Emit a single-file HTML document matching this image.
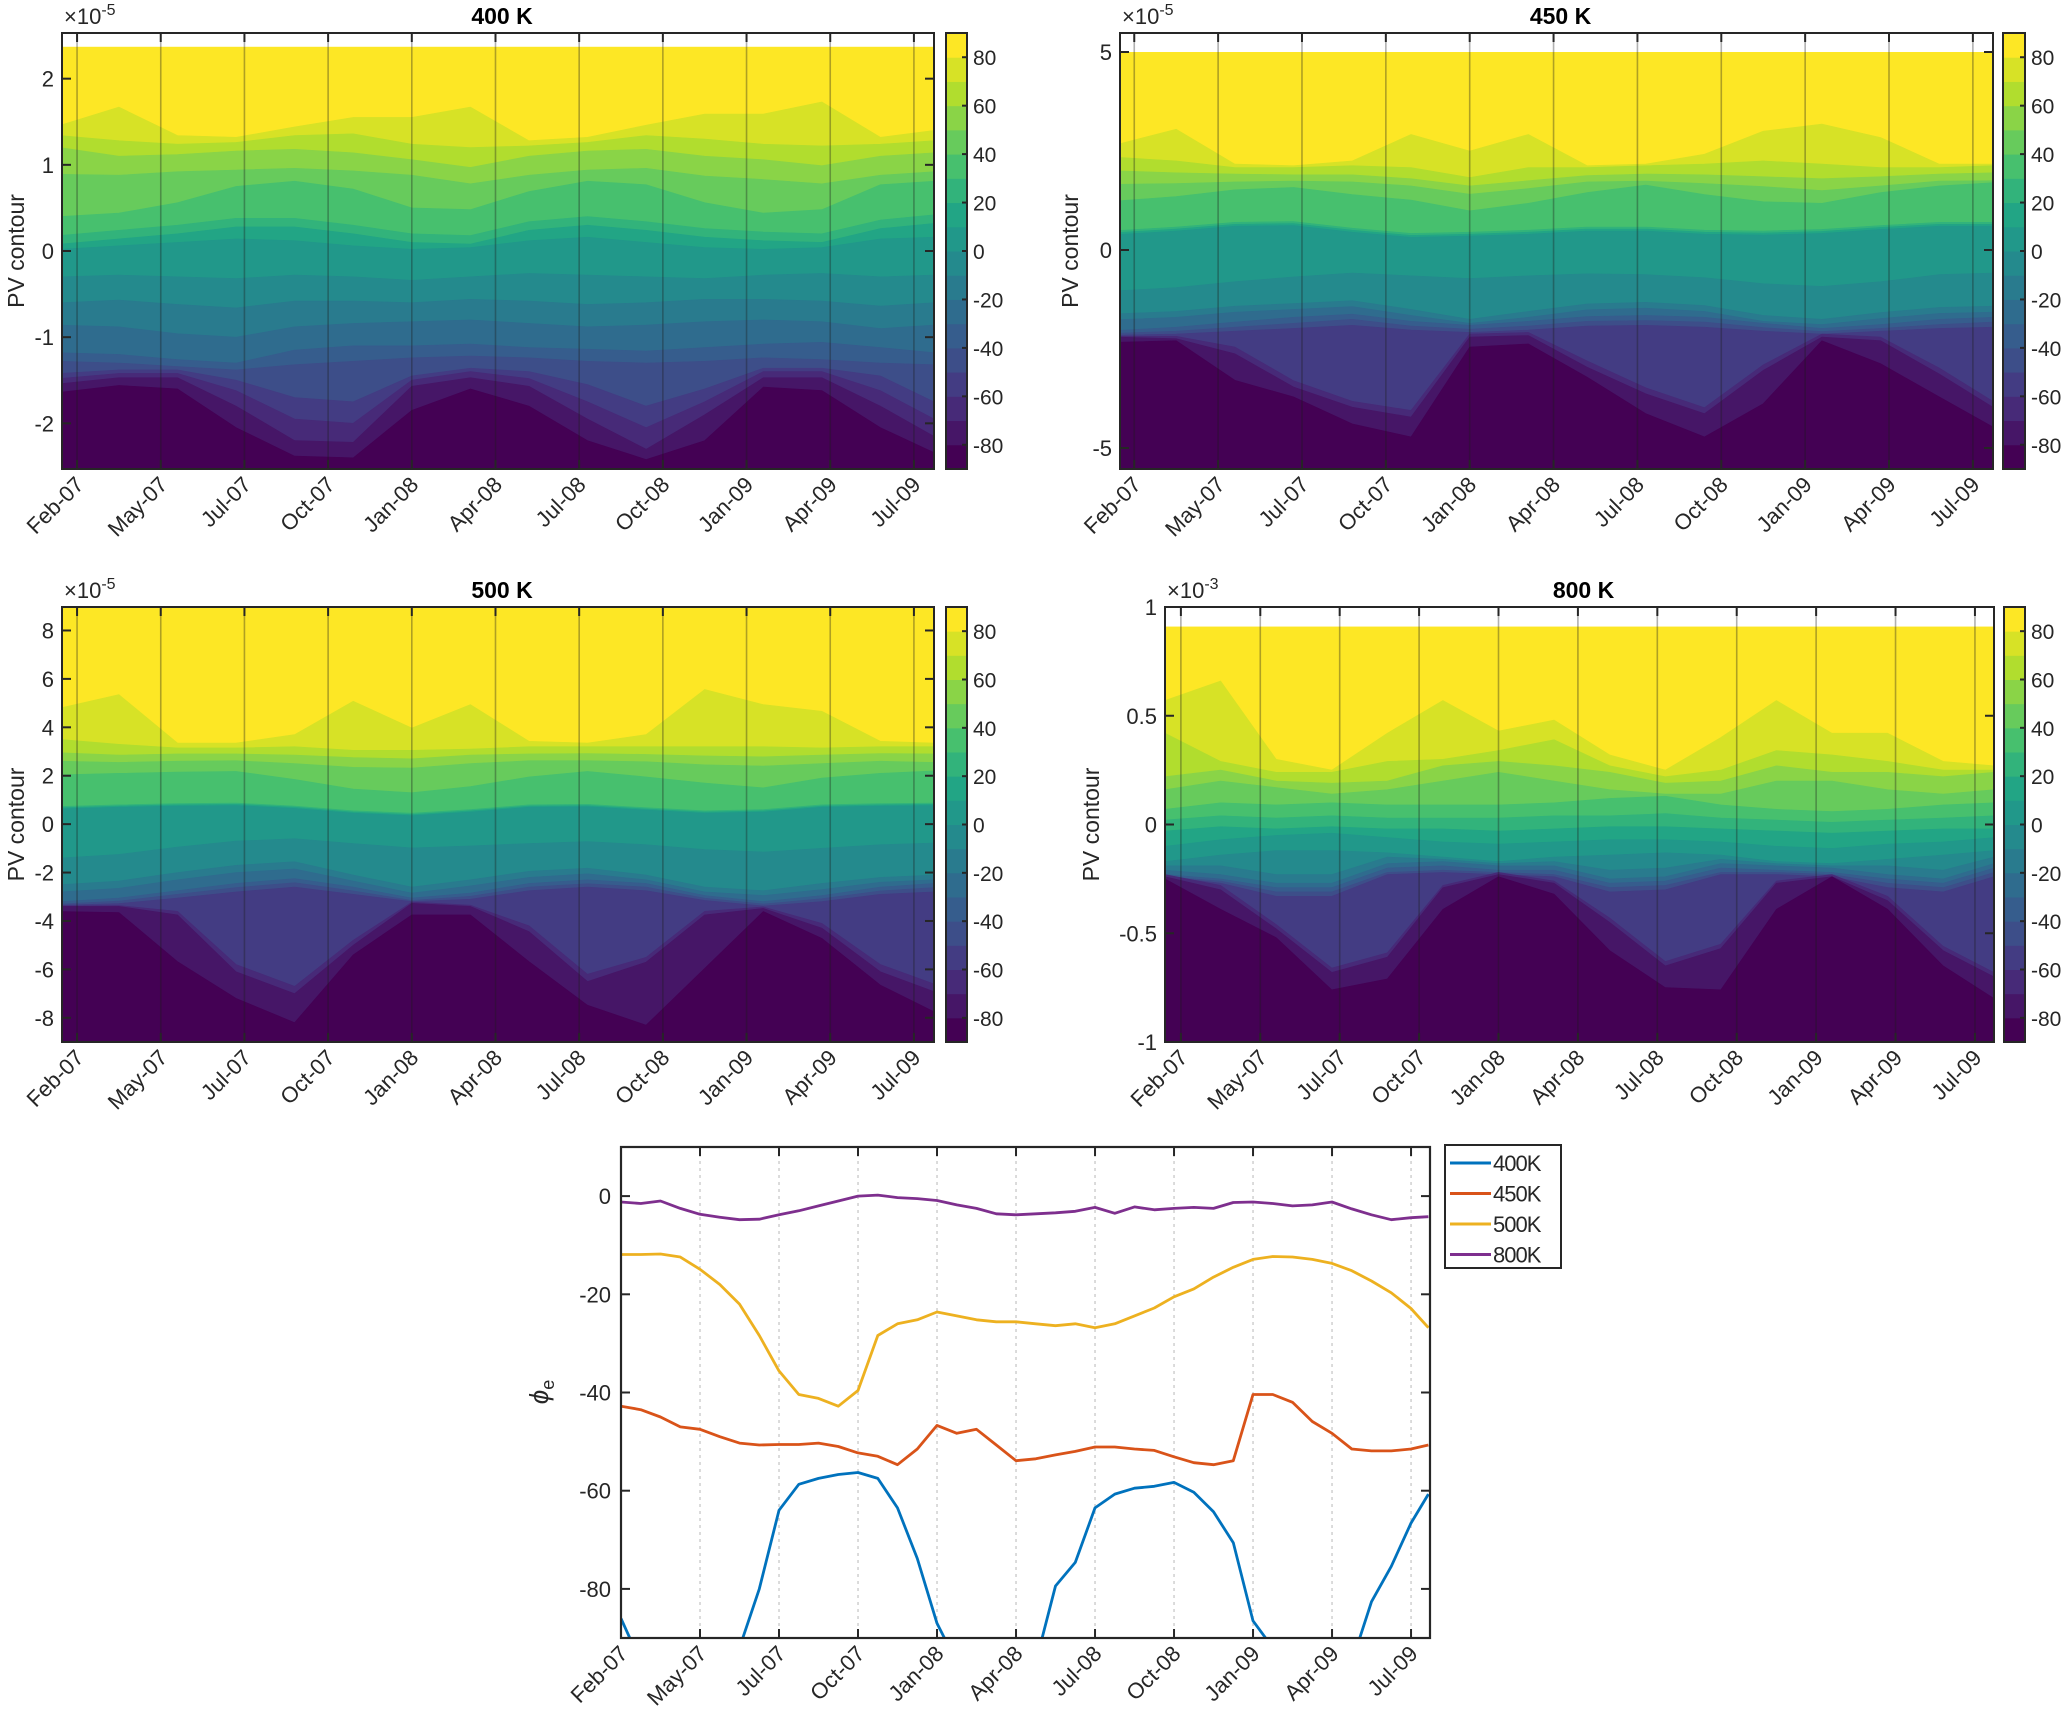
<!DOCTYPE html>
<html><head><meta charset="utf-8"><style>
html,body{margin:0;padding:0;background:#fff;}
svg{display:block;font-family:"Liberation Sans",sans-serif;}
</style></head><body>
<svg id="fig" width="2067" height="1733" viewBox="0 0 2067 1733" xmlns="http://www.w3.org/2000/svg"></svg>
<script>
// ---------- data (time in quarter-year units from Feb-07) ----------
const tickLabels = ['Feb-07','May-07','Jul-07','Oct-07','Jan-08','Apr-08','Jul-08','Oct-08','Jan-09','Apr-09','Jul-09'];
const contourT = [-0.2,0.5,1.2,1.9,2.6,3.3,4.0,4.7,5.4,6.1,6.8,7.5,8.2,8.9,9.6,10.24];
const levelValues = [80,70,60,50,40,30,20,10,0,-10,-20,-30,-40,-50,-60,-70,-80];
const cbTicks = [80,60,40,20,0,-20,-40,-60,-80];

// 400 K (x1e-5)
const p400_L80=[1.46,1.67,1.34,1.32,1.44,1.55,1.55,1.67,1.28,1.32,1.46,1.59,1.59,1.73,1.32,1.40];
const p400_L70=[1.34,1.28,1.24,1.26,1.34,1.36,1.24,1.20,1.22,1.26,1.34,1.30,1.24,1.22,1.24,1.28];
const p400_L60=[1.20,1.10,1.12,1.16,1.18,1.14,1.06,0.97,1.10,1.16,1.18,1.10,1.06,0.99,1.10,1.14];
const p400_L50=[0.89,0.88,0.92,0.94,0.96,0.93,0.88,0.78,0.88,0.94,0.96,0.87,0.83,0.78,0.88,0.92];
const p400_L40=[0.40,0.44,0.56,0.75,0.81,0.72,0.50,0.48,0.69,0.81,0.77,0.56,0.44,0.48,0.77,0.81];
const p400_L30=[0.18,0.24,0.30,0.38,0.38,0.30,0.20,0.18,0.34,0.40,0.34,0.26,0.22,0.20,0.36,0.42];
const p400_L20=[0.08,0.14,0.20,0.28,0.28,0.20,0.10,0.08,0.24,0.30,0.24,0.16,0.12,0.10,0.26,0.32];
const p400_L10=[0.02,0.06,0.10,0.14,0.12,0.06,0.02,0.04,0.12,0.16,0.10,0.04,0.02,0.04,0.14,0.16];
const p400_L0=[-0.30,-0.28,-0.30,-0.32,-0.28,-0.30,-0.34,-0.30,-0.26,-0.28,-0.30,-0.32,-0.28,-0.26,-0.30,-0.28];
const p400_Lm10=[-0.60,-0.57,-0.62,-0.66,-0.58,-0.58,-0.60,-0.56,-0.58,-0.62,-0.60,-0.56,-0.56,-0.58,-0.64,-0.60];
const p400_Lm20=[-0.86,-0.88,-0.96,-1.00,-0.88,-0.84,-0.82,-0.80,-0.84,-0.88,-0.86,-0.82,-0.80,-0.82,-0.90,-0.86];
const p400_Lm30=[-1.18,-1.20,-1.26,-1.30,-1.15,-1.10,-1.10,-1.08,-1.12,-1.14,-1.16,-1.12,-1.08,-1.06,-1.12,-1.18];
const p400_Lm40=[-1.28,-1.30,-1.34,-1.38,-1.32,-1.28,-1.24,-1.22,-1.24,-1.28,-1.30,-1.28,-1.24,-1.26,-1.30,-1.32];
const p400_Lm50=[-1.42,-1.38,-1.38,-1.50,-1.70,-1.75,-1.45,-1.36,-1.40,-1.55,-1.80,-1.60,-1.36,-1.36,-1.45,-1.75];
const p400_Lm60=[-1.48,-1.42,-1.42,-1.62,-1.95,-2.00,-1.50,-1.40,-1.48,-1.75,-2.05,-1.75,-1.40,-1.40,-1.62,-1.95];
const p400_Lm70=[-1.54,-1.47,-1.47,-1.80,-2.20,-2.22,-1.57,-1.47,-1.57,-1.95,-2.30,-1.90,-1.47,-1.47,-1.80,-2.15];
const p400_Lm80=[-1.64,-1.56,-1.60,-2.05,-2.38,-2.40,-1.85,-1.60,-1.80,-2.20,-2.42,-2.20,-1.58,-1.62,-2.05,-2.34];

// 450 K (x1e-5)
const p450_L80=[2.67,3.05,2.17,2.13,2.25,2.92,2.50,2.92,2.13,2.17,2.42,3.00,3.18,2.84,2.17,2.17];
const p450_L70=[2.34,2.25,2.08,2.08,2.13,2.08,1.83,2.08,2.08,2.13,2.17,2.25,2.17,2.08,2.08,2.13];
const p450_L60=[2.00,1.95,1.92,1.90,1.90,1.80,1.62,1.75,1.88,1.92,1.90,1.85,1.80,1.85,1.92,1.95];
const p450_L50=[1.66,1.68,1.72,1.74,1.72,1.62,1.41,1.55,1.72,1.74,1.68,1.60,1.50,1.62,1.74,1.75];
const p450_L40=[1.24,1.35,1.52,1.58,1.40,1.26,0.99,1.18,1.45,1.64,1.40,1.22,1.18,1.45,1.62,1.70];
const p450_L30=[0.49,0.58,0.70,0.72,0.55,0.42,0.45,0.50,0.58,0.58,0.50,0.48,0.52,0.62,0.70,0.70];
const p450_L20=[0.44,0.53,0.65,0.67,0.50,0.37,0.40,0.45,0.53,0.53,0.45,0.43,0.47,0.57,0.65,0.65];
const p450_L10=[0.39,0.48,0.60,0.62,0.45,0.32,0.35,0.40,0.48,0.48,0.40,0.38,0.42,0.52,0.60,0.60];
const p450_L0=[-1.03,-0.95,-0.80,-0.68,-0.58,-0.65,-0.72,-0.65,-0.60,-0.62,-0.70,-0.85,-0.92,-0.80,-0.62,-0.58];
const p450_Lm10=[-1.61,-1.55,-1.42,-1.35,-1.28,-1.50,-1.75,-1.55,-1.36,-1.32,-1.40,-1.65,-1.75,-1.58,-1.45,-1.42];
const p450_Lm20=[-1.76,-1.70,-1.57,-1.50,-1.43,-1.65,-1.85,-1.70,-1.51,-1.47,-1.55,-1.80,-1.88,-1.73,-1.60,-1.57];
const p450_Lm30=[-2.03,-1.95,-1.82,-1.70,-1.62,-1.80,-1.90,-1.80,-1.68,-1.65,-1.70,-1.85,-1.98,-1.88,-1.75,-1.70];
const p450_Lm40=[-2.10,-2.05,-1.95,-1.85,-1.75,-1.92,-2.00,-1.92,-1.80,-1.78,-1.82,-1.96,-2.06,-1.98,-1.88,-1.82];
const p450_Lm50=[-2.15,-2.12,-2.05,-1.98,-1.90,-2.02,-2.08,-2.02,-1.92,-1.90,-1.95,-2.05,-2.12,-2.05,-1.98,-1.95];
const p450_Lm60=[-2.18,-2.18,-2.45,-3.30,-3.82,-4.05,-2.12,-2.08,-2.80,-3.48,-3.98,-2.90,-2.12,-2.20,-2.98,-3.82];
const p450_Lm70=[-2.20,-2.24,-2.62,-3.46,-3.97,-4.22,-2.20,-2.16,-2.96,-3.63,-4.13,-3.04,-2.20,-2.29,-3.13,-3.97];
const p450_Lm80=[-2.33,-2.29,-3.29,-3.71,-4.39,-4.72,-2.45,-2.37,-3.21,-4.13,-4.72,-3.88,-2.29,-2.87,-3.71,-4.47];

// 500 K (x1e-5)
const p500_L80=[4.8,5.35,3.35,3.35,3.7,5.08,3.97,4.94,3.42,3.35,3.7,5.56,4.94,4.66,3.42,3.35];
const p500_L70=[3.5,3.3,3.15,3.15,3.2,3.05,3.05,3.1,3.2,3.2,3.2,3.2,3.2,3.15,3.2,3.2];
const p500_L60=[2.95,2.85,2.9,2.9,2.85,2.75,2.7,2.85,2.9,2.92,2.88,2.82,2.78,2.85,2.92,2.9];
const p500_L50=[2.6,2.55,2.6,2.62,2.5,2.35,2.32,2.5,2.62,2.62,2.58,2.45,2.4,2.5,2.6,2.55];
const p500_L40=[2.04,2.1,2.15,2.18,1.85,1.45,1.3,1.55,1.95,2.18,1.95,1.7,1.5,1.9,2.1,2.2];
const p500_L30=[0.73,0.8,0.85,0.87,0.75,0.55,0.45,0.6,0.8,0.82,0.68,0.55,0.6,0.8,0.85,0.87];
const p500_L20=[0.68,0.75,0.80,0.82,0.70,0.50,0.40,0.55,0.75,0.77,0.63,0.50,0.55,0.75,0.80,0.82];
const p500_L10=[0.63,0.70,0.75,0.77,0.65,0.45,0.35,0.50,0.70,0.72,0.58,0.45,0.50,0.70,0.75,0.77];
const p500_L0=[-1.4,-1.25,-0.95,-0.7,-0.6,-0.8,-0.98,-0.9,-0.8,-0.72,-0.85,-1.05,-1.15,-1.0,-0.85,-0.78];
const p500_Lm10=[-2.5,-2.35,-2.0,-1.7,-1.55,-2.1,-2.6,-2.3,-1.95,-1.82,-2.1,-2.6,-2.75,-2.45,-2.2,-2.1];
const p500_Lm20=[-2.8,-2.65,-2.3,-2.0,-1.85,-2.35,-2.85,-2.55,-2.2,-2.05,-2.3,-2.8,-2.95,-2.7,-2.4,-2.3];
const p500_Lm30=[-3.2,-3.05,-2.75,-2.45,-2.25,-2.6,-3.05,-2.85,-2.45,-2.3,-2.45,-2.95,-3.2,-2.95,-2.6,-2.45];
const p500_Lm40=[-3.3,-3.18,-2.9,-2.62,-2.42,-2.76,-3.15,-2.98,-2.6,-2.46,-2.6,-3.06,-3.3,-3.08,-2.76,-2.62];
const p500_Lm50=[-3.35,-3.28,-3.05,-2.8,-2.6,-2.9,-3.2,-3.1,-2.75,-2.6,-2.75,-3.15,-3.38,-3.2,-2.9,-2.8];
const p500_Lm60=[-3.38,-3.36,-3.6,-5.8,-6.7,-4.8,-3.22,-3.35,-4.2,-6.2,-5.5,-3.6,-3.42,-4.1,-5.8,-6.6];
const p500_Lm70=[-3.4,-3.4,-3.75,-6.1,-7.0,-5.0,-3.27,-3.4,-4.44,-6.5,-5.7,-3.75,-3.48,-4.3,-6.1,-6.92];
const p500_Lm80=[-3.61,-3.65,-5.68,-7.2,-8.2,-5.4,-3.75,-3.75,-5.68,-7.48,-8.3,-5.96,-3.61,-4.72,-6.65,-7.75];

// 800 K (x1e-3)
const p800_L80=[0.57,0.66,0.30,0.25,0.42,0.57,0.43,0.48,0.32,0.25,0.40,0.57,0.42,0.42,0.29,0.27];
const p800_L70=[0.42,0.29,0.24,0.24,0.29,0.30,0.34,0.39,0.27,0.22,0.25,0.34,0.32,0.29,0.25,0.25];
const p800_L60=[0.22,0.25,0.20,0.19,0.20,0.27,0.29,0.27,0.24,0.19,0.20,0.27,0.24,0.24,0.22,0.24];
const p800_L50=[0.16,0.20,0.17,0.14,0.16,0.20,0.24,0.20,0.16,0.14,0.14,0.20,0.20,0.16,0.14,0.16];
const p800_L40=[0.07,0.10,0.09,0.10,0.09,0.09,0.09,0.10,0.12,0.13,0.09,0.07,0.06,0.07,0.09,0.10];
const p800_L30=[0.02,0.04,0.03,0.04,0.03,0.03,0.03,0.04,0.04,0.05,0.03,0.02,0.01,0.02,0.03,0.04];
const p800_L20=[-0.03,-0.01,-0.02,-0.01,-0.02,-0.02,-0.03,-0.02,-0.01,-0.01,-0.02,-0.03,-0.04,-0.03,-0.02,-0.02];
const p800_L10=[-0.10,-0.07,-0.05,-0.04,-0.06,-0.08,-0.09,-0.08,-0.07,-0.07,-0.08,-0.10,-0.11,-0.09,-0.08,-0.06];
const p800_L0=[-0.17,-0.14,-0.12,-0.12,-0.13,-0.15,-0.17,-0.15,-0.14,-0.13,-0.14,-0.17,-0.18,-0.16,-0.14,-0.12];
const p800_Lm10=[-0.19,-0.19,-0.23,-0.23,-0.15,-0.16,-0.18,-0.17,-0.21,-0.20,-0.16,-0.18,-0.19,-0.19,-0.21,-0.15];
const p800_Lm20=[-0.21,-0.23,-0.27,-0.27,-0.18,-0.17,-0.19,-0.19,-0.25,-0.24,-0.18,-0.19,-0.20,-0.23,-0.25,-0.18];
const p800_Lm30=[-0.23,-0.25,-0.29,-0.29,-0.20,-0.19,-0.21,-0.21,-0.27,-0.26,-0.20,-0.21,-0.22,-0.25,-0.27,-0.20];
const p800_Lm40=[-0.24,-0.26,-0.31,-0.31,-0.22,-0.21,-0.22,-0.23,-0.29,-0.28,-0.22,-0.22,-0.23,-0.27,-0.29,-0.22];
const p800_Lm50=[-0.24,-0.27,-0.33,-0.33,-0.23,-0.22,-0.23,-0.24,-0.31,-0.30,-0.23,-0.23,-0.24,-0.29,-0.31,-0.24];
const p800_Lm60=[-0.23,-0.28,-0.46,-0.66,-0.59,-0.28,-0.22,-0.26,-0.43,-0.63,-0.55,-0.26,-0.23,-0.33,-0.56,-0.68];
const p800_Lm70=[-0.24,-0.30,-0.48,-0.68,-0.61,-0.29,-0.23,-0.27,-0.45,-0.65,-0.57,-0.27,-0.24,-0.35,-0.58,-0.70];
const p800_Lm80=[-0.25,-0.39,-0.52,-0.76,-0.71,-0.39,-0.24,-0.32,-0.58,-0.75,-0.76,-0.39,-0.24,-0.39,-0.65,-0.80];

// bottom line chart: equivalent latitude
const lineT = [0,0.25,0.5,0.75,1,1.25,1.5,1.75,2,2.25,2.5,2.75,3,3.25,3.5,3.75,4,4.25,4.5,4.75,5,5.25,5.5,5.75,6,6.25,6.5,6.75,7,7.25,7.5,7.75,8,8.25,8.5,8.75,9,9.25,9.5,9.75,10,10.22];
const phi400=[-86,-95,-95,-95,-95,-95,-92,-80,-64,-58.7,-57.5,-56.7,-56.3,-57.5,-63.5,-73.8,-87,-95,-95,-95,-95,-95,-79.4,-74.6,-63.5,-60.7,-59.5,-59.1,-58.3,-60.3,-64.3,-70.6,-86.5,-92,-95,-95,-95,-95,-82.6,-75.4,-66.6,-60.7];
const phi450=[-42.8,-43.5,-45,-47,-47.5,-49,-50.3,-50.7,-50.6,-50.6,-50.3,-51,-52.3,-53,-54.7,-51.5,-46.7,-48.3,-47.5,-50.7,-53.9,-53.5,-52.7,-52,-51.1,-51.1,-51.5,-51.8,-53.1,-54.3,-54.7,-53.9,-40.4,-40.4,-42,-45.9,-48.3,-51.5,-51.9,-51.9,-51.5,-50.7];
const phi500=[-11.9,-11.9,-11.8,-12.4,-14.9,-18,-22,-28.4,-35.6,-40.4,-41.2,-42.8,-39.6,-28.4,-26,-25.2,-23.6,-24.4,-25.2,-25.6,-25.6,-26,-26.4,-26,-26.8,-26,-24.4,-22.8,-20.5,-18.9,-16.5,-14.5,-12.9,-12.3,-12.4,-12.9,-13.7,-15.2,-17.3,-19.7,-22.9,-26.8];
const phi800=[-1.2,-1.5,-1.0,-2.5,-3.7,-4.3,-4.8,-4.7,-3.8,-3.0,-2.0,-1.0,0.0,0.2,-0.3,-0.5,-0.9,-1.8,-2.5,-3.6,-3.8,-3.6,-3.4,-3.1,-2.3,-3.5,-2.2,-2.8,-2.5,-2.3,-2.5,-1.3,-1.2,-1.5,-2.0,-1.8,-1.2,-2.6,-3.8,-4.8,-4.4,-4.2];
const seriesNames=['400K','450K','500K','800K'];
const yTicksLine=[0,-20,-40,-60,-80];

// ---------- rendering ----------
const NS='http://www.w3.org/2000/svg';
const svg=document.getElementById('fig');
function el(tag,attrs,parent){const e=document.createElementNS(NS,tag);for(const k in attrs)e.setAttribute(k,attrs[k]);(parent||svg).appendChild(e);return e;}
const vstops=['#440154','#482475','#414487','#355f8d','#2a788e','#21918c','#22a884','#44bf70','#7ad151','#bddf26','#fde725'];
function hex(c){return [parseInt(c.substr(1,2),16),parseInt(c.substr(3,2),16),parseInt(c.substr(5,2),16)];}
function viridis(f){const p=f*10,i=Math.min(9,Math.floor(p)),r=p-i,a=hex(vstops[i]),b=hex(vstops[i+1]);return 'rgb('+a.map((v,k)=>Math.round(v+(b[k]-v)*r)).join(',')+')';}
const bandColor=i=>viridis(i/17);
const INK='#262626';

const panels=[
 {name:'400 K',slug:'400k',L:62,R:934,T:33,B:469,tmin:-0.18,tmax:10.24,ymin:-2.53,ymax:2.53,dataTop:2.37,yt:[2,1,0,-1,-2],exp:'-5',ylx:16,
  levels:[p400_L80,p400_L70,p400_L60,p400_L50,p400_L40,p400_L30,p400_L20,p400_L10,p400_L0,p400_Lm10,p400_Lm20,p400_Lm30,p400_Lm40,p400_Lm50,p400_Lm60,p400_Lm70,p400_Lm80],cbL:946,cbR:967},
 {name:'450 K',slug:'450k',L:1120,R:1993,T:33,B:469,tmin:-0.17,tmax:10.24,ymin:-5.53,ymax:5.48,dataTop:5.0,yt:[5,0,-5],exp:'-5',ylx:1070,
  levels:[p450_L80,p450_L70,p450_L60,p450_L50,p450_L40,p450_L30,p450_L20,p450_L10,p450_L0,p450_Lm10,p450_Lm20,p450_Lm30,p450_Lm40,p450_Lm50,p450_Lm60,p450_Lm70,p450_Lm80],cbL:2003,cbR:2025},
 {name:'500 K',slug:'500k',L:62,R:934,T:607,B:1042,tmin:-0.18,tmax:10.24,ymin:-9.0,ymax:8.97,dataTop:8.95,yt:[8,6,4,2,0,-2,-4,-6,-8],exp:'-5',ylx:16,
  levels:[p500_L80,p500_L70,p500_L60,p500_L50,p500_L40,p500_L30,p500_L20,p500_L10,p500_L0,p500_Lm10,p500_Lm20,p500_Lm30,p500_Lm40,p500_Lm50,p500_Lm60,p500_Lm70,p500_Lm80],cbL:946,cbR:967},
 {name:'800 K',slug:'800k',L:1165,R:1994,T:607,B:1042,tmin:-0.2,tmax:10.24,ymin:-1,ymax:1,dataTop:0.91,yt:[1,0.5,0,-0.5,-1],exp:'-3',ylx:1091,
  levels:[p800_L80,p800_L70,p800_L60,p800_L50,p800_L40,p800_L30,p800_L20,p800_L10,p800_L0,p800_Lm10,p800_Lm20,p800_Lm30,p800_Lm40,p800_Lm50,p800_Lm60,p800_Lm70,p800_Lm80],cbL:2004,cbR:2025}
];

function xTickLabels(g,xs,B){
  tickLabels.forEach((lab,i)=>{
    const x=xs(i);
    const t=el('text',{x:x+8,y:B+17,'text-anchor':'end','font-size':22,fill:INK,transform:`rotate(-45 ${x+8} ${B+17})`},g);
    t.textContent=lab;
    
    
  });
}

panels.forEach((p,pi)=>{
  const g=el('g',{});
  
  
  const xs=t=>p.L+(t-p.tmin)/(p.tmax-p.tmin)*(p.R-p.L);
  const ys=v=>p.B-(v-p.ymin)/(p.ymax-p.ymin)*(p.B-p.T);
  const cid='clip'+pi;
  const cp=el('clipPath',{id:cid},g);el('rect',{x:p.L,y:p.T,width:p.R-p.L,height:p.B-p.T},cp);
  const fills=el('g',{'clip-path':`url(#${cid})`},g);
  
  
  const top=el('rect',{x:p.L,y:ys(p.dataTop),width:p.R-p.L,height:p.B-ys(p.dataTop),fill:bandColor(17)},fills);
  
  
  p.levels.forEach((arr,i)=>{
    const band=16-i;
    let d=`M${xs(contourT[0])-5},${p.B+5} L${xs(contourT[0])-5},${ys(arr[0])}`;
    arr.forEach((v,k)=>{d+=` L${xs(contourT[k]).toFixed(1)},${ys(v).toFixed(1)}`;});
    d+=` L${xs(contourT[contourT.length-1])+5},${ys(arr[arr.length-1])} L${xs(contourT[contourT.length-1])+5},${p.B+5} Z`;
    const c=bandColor(band);
    const path=el('path',{d:d,fill:c,stroke:c,'stroke-width':0.6},fills);
    
    
  });
  for(let i=0;i<tickLabels.length;i++){
    const x=xs(i);
    el('line',{x1:x,y1:p.T,x2:x,y2:p.B,stroke:'rgba(30,30,30,0.35)','stroke-width':1.6},g);
    el('line',{x1:x,y1:p.T,x2:x,y2:p.T+9,stroke:INK,'stroke-width':2},g);
    el('line',{x1:x,y1:p.B,x2:x,y2:p.B-9,stroke:INK,'stroke-width':2},g);
  }
  p.yt.forEach(v=>{
    const y=ys(v);
    el('line',{x1:p.L,y1:y,x2:p.L+9,y2:y,stroke:INK,'stroke-width':2},g);
    el('line',{x1:p.R,y1:y,x2:p.R-9,y2:y,stroke:INK,'stroke-width':2},g);
    const t=el('text',{x:p.L-8,y:y+8,'text-anchor':'end','font-size':22,fill:INK},g);
    t.textContent=String(v);
    
    
  });
  const box=el('rect',{x:p.L,y:p.T,width:p.R-p.L,height:p.B-p.T,fill:'none',stroke:INK,'stroke-width':2},g);
  
  
  xTickLabels(g,xs,p.B);
  const ex=el('text',{x:p.L+2,y:p.T-9,'font-size':22,fill:INK},g);
  ex.innerHTML='×10<tspan dy="-9" font-size="16">'+p.exp+'</tspan>';
  
  
  const ti=el('text',{x:(p.L+p.R)/2+4,y:p.T-9,'text-anchor':'middle','font-size':23,'font-weight':'bold',fill:'#000'},g);
  ti.textContent=p.name;
  
  
  const yl=el('text',{x:p.ylx,y:(p.T+p.B)/2,'text-anchor':'middle','font-size':23,fill:INK,transform:`rotate(-90 ${p.ylx} ${(p.T+p.B)/2})`,dy:'8'},g);
  yl.textContent='PV contour';
  
  
  const cb=el('g',{},g);
  
  
  const cy=v=>p.B-(v+90)/180*(p.B-p.T);
  for(let b=0;b<18;b++){
    el('rect',{x:p.cbL,y:cy(-90+(b+1)*10),width:p.cbR-p.cbL,height:cy(-90+b*10)-cy(-90+(b+1)*10)+0.5,fill:bandColor(b)},cb);
  }
  el('rect',{x:p.cbL,y:p.T,width:p.cbR-p.cbL,height:p.B-p.T,fill:'none',stroke:INK,'stroke-width':2},cb);
  cbTicks.forEach(v=>{
    const y=cy(v);
    el('line',{x1:p.cbR,y1:y,x2:p.cbR-5,y2:y,stroke:INK,'stroke-width':2},cb);
    const t=el('text',{x:p.cbR+6,y:y+8,'font-size':21,fill:INK},cb);
    t.textContent=String(v);
    
    
  });
});

(function(){
  const L=621,R=1430,T=1147,B=1638,tmin=0,tmax=10.24,ymin=-90,ymax=10;
  const xs=t=>L+(t-tmin)/(tmax-tmin)*(R-L);
  const ys=v=>B-(v-ymin)/(ymax-ymin)*(B-T);
  const g=el('g',{});
  
  
  for(let i=1;i<tickLabels.length;i++){
    el('line',{x1:xs(i),y1:T,x2:xs(i),y2:B,stroke:'#c8c8c8','stroke-width':1.3,'stroke-dasharray':'3,4'},g);
  }
  const cp=el('clipPath',{id:'clipLine'},g);el('rect',{x:L,y:T,width:R-L,height:B-T},cp);
  const lg=el('g',{'clip-path':'url(#clipLine)'},g);
  const colors=['#0072bd','#d95319','#edb120','#7e2f8e'];
  [phi400,phi450,phi500,phi800].forEach((arr,si)=>{
    const d='M'+arr.map((v,k)=>xs(lineT[k]).toFixed(1)+','+ys(v).toFixed(1)).join(' L');
    const path=el('path',{d:d,fill:'none',stroke:colors[si],'stroke-width':2.8,'stroke-linejoin':'round'},lg);
    
    
  });
  for(let i=0;i<tickLabels.length;i++){
    el('line',{x1:xs(i),y1:B,x2:xs(i),y2:B-9,stroke:INK,'stroke-width':2},g);
    el('line',{x1:xs(i),y1:T,x2:xs(i),y2:T+9,stroke:INK,'stroke-width':2},g);
  }
  yTicksLine.forEach(v=>{
    const y=ys(v);
    el('line',{x1:L,y1:y,x2:L+9,y2:y,stroke:INK,'stroke-width':2},g);
    el('line',{x1:R,y1:y,x2:R-9,y2:y,stroke:INK,'stroke-width':2},g);
    const t=el('text',{x:L-10,y:y+8,'text-anchor':'end','font-size':22,fill:INK},g);
    t.textContent=String(v);
    
    
  });
  const box=el('rect',{x:L,y:T,width:R-L,height:B-T,fill:'none',stroke:INK,'stroke-width':2.2},g);
  
  
  xTickLabels(g,xs,B);
  const yl=el('text',{x:548,y:1392,'text-anchor':'middle','font-size':26,fill:INK,transform:'rotate(-90 548 1392)'},g);
  yl.innerHTML='<tspan font-style="italic">ϕ</tspan><tspan dy="6" font-size="18">e</tspan>';
  
  
  const leg=el('g',{},g);
  
  
  el('rect',{x:1445,y:1145,width:116,height:123,fill:'#fff',stroke:INK,'stroke-width':2},leg);
  seriesNames.forEach((n,i)=>{
    const y=1163+i*30.5;
    const e=el('g',{},leg);
    
    
    el('line',{x1:1450,y1:y,x2:1491,y2:y,stroke:colors[i],'stroke-width':3},e);
    const t=el('text',{x:1493,y:y+8,'font-size':22,fill:INK,'letter-spacing':'-1'},e);
    t.textContent=n;
  });
})();
</script>
</body></html>
